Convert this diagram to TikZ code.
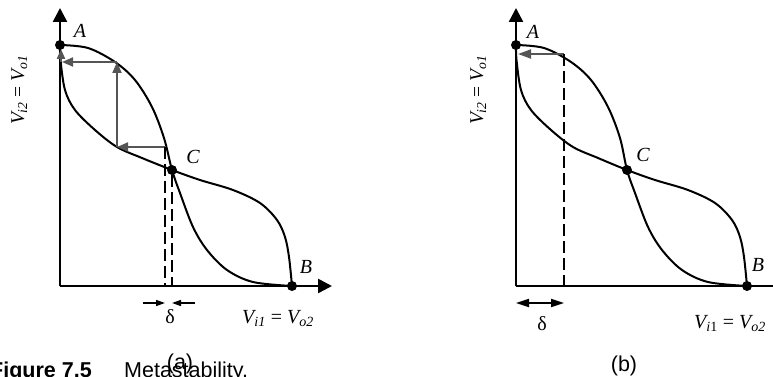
\documentclass[tikz,border=0pt]{standalone}
\usepackage{fontspec}
\setmainfont{Liberation Serif}
\newfontfamily\capfont{Liberation Sans}
\usetikzlibrary{arrows.meta}
\definecolor{arrowgray}{HTML}{555555}
\newcommand{\mysub}[1]{\textsubscript{#1}}
\begin{document}
\begin{tikzpicture}[x=1pt,y=-1pt,
  axis/.style={line width=2.5pt, -{Triangle[length=14pt,width=14pt]}},
  curve/.style={line width=2pt},
  grayarrow/.style={line width=2pt, draw=arrowgray, -{Triangle[length=11pt,width=9pt]}},
  dashline/.style={line width=2pt, dash pattern=on 12pt off 5pt},
  deltaarrow/.style={line width=1.5pt, -{Triangle[length=9pt,width=6pt]}},
  deltadouble/.style={line width=1.8pt, {Triangle[length=13pt,width=8pt]}-{Triangle[length=13pt,width=8pt]}},
  dot/.style={circle, fill=black, inner sep=0pt, minimum size=10pt},
  lbl/.style={font=\fontsize{20}{22}\selectfont\itshape, inner sep=0pt},
  ylbl/.style={font=\fontsize{19.5}{21}\selectfont\itshape, inner sep=0pt},
  grk/.style={font=\fontsize{20}{22}\selectfont, inner sep=0pt},
  sans/.style={font=\capfont\fontsize{21.5}{23}\selectfont, inner sep=0pt, anchor=base west}
]
\useasboundingbox (0,0) rectangle (773,377);

% ---------- panel (a) ----------
\begin{scope}[shift={(60,286)}, y=1pt]
  \coordinate (aO) at (0,0);
  \coordinate (aYtip) at (0,278);
  \coordinate (aXtip) at (272,0);
  \draw[axis] (aO) -- (aYtip);
  \draw[axis] (aO) -- (aXtip);
  \draw[curve] plot[smooth, tension=0.55] coordinates {(0,241) (28,238) (55,224) (75,206) (92,179) (104,148) (112,116) (120,93) (133,59) (147,36) (167,16) (193,4) (232,0)};
  \draw[curve] plot[smooth, tension=0.55] coordinates {(0,241) (0.5,226) (5,196) (15,176) (35,156) (57,139) (82,128) (112,116) (140,106) (173,96) (200,83) (217,66) (225,49) (229,29) (232,0)};
  \node[dot] (aA) at (0,241) {};
  \node[dot] (aB) at (232,0) {};
  \node[dot] (aC) at (112,116) {};
  \coordinate (ag1) at (106,139);
  \coordinate (ag2) at (57,139);
  \coordinate (ag3) at (57,224);
  \coordinate (ag4) at (2,224);
  \coordinate (ag5) at (1,224);
  \coordinate (ag6) at (1,237);
  \draw[grayarrow] (ag1) -- (ag2);
  \draw[grayarrow] (ag2) -- (ag3);
  \draw[grayarrow] (ag3) -- (ag4);
  \draw[grayarrow, -{Triangle[length=10pt,width=8pt]}] (ag5) -- (ag6);
  \coordinate (ad1t) at (105,139);
  \coordinate (ad1b) at (105,0);
  \draw[dashline] (ad1t) -- (ad1b);
  \coordinate (ad2b) at (112,0);
  \draw[dashline] (aC) -- (ad2b);
  \coordinate (adl) at (83,-17);
  \coordinate (adlt) at (105,-17);
  \coordinate (adr) at (135,-17);
  \coordinate (adrt) at (112,-17);
  \draw[deltaarrow] (adl) -- (adlt);
  \draw[deltaarrow] (adr) -- (adrt);
  \node[grk] (adelta) at (110,-31) {δ};
  \node[lbl, anchor=base] (aXlab) at (218,-37) {V\mysub{i1} \textup{=} V\mysub{o2}};
  \node[lbl] (aAl) at (20,255) {A};
  \node[lbl] (aCl) at (133,129) {C};
  \node[lbl] (aBl) at (246,19) {B};
  \node[ylbl, rotate=90, anchor=base] (aYlab) at (-36,196) {V\mysub{i2} \textup{=} V\mysub{o1}};
\end{scope}

% ---------- panel (b) ----------
\begin{scope}[shift={(516,286)}, y=1pt]
  \coordinate (bO) at (0,0);
  \coordinate (bYtip) at (0,278);
  \coordinate (bXtip) at (272,0);
  \draw[axis] (bO) -- (bYtip);
  \draw[axis] (bO) -- (bXtip);
  \draw[curve] plot[smooth, tension=0.55] coordinates {(0,241) (28,238) (55,224) (75,206) (92,179) (104,148) (111,116) (119,93) (132,59) (146,36) (166,16) (192,4) (231,0)};
  \draw[curve] plot[smooth, tension=0.55] coordinates {(0,241) (0.5,226) (5,196) (15,176) (35,156) (57,139) (82,128) (111,116) (139,106) (172,96) (199,83) (216,66) (224,49) (228,29) (231,0)};
  \node[dot] (bA) at (0,241) {};
  \node[dot] (bB) at (231,0) {};
  \node[dot] (bC) at (111,116) {};
  \coordinate (bg1) at (48,232);
  \coordinate (bg2) at (2,232);
  \draw[grayarrow, -{Triangle[length=13pt,width=9pt]}] (bg1) -- (bg2);
  \coordinate (bd1b) at (48,0);
  \draw[dashline] (bg1) -- (bd1b);
  \coordinate (bdl) at (0,-17);
  \coordinate (bdr) at (48,-17);
  \draw[deltadouble] (bdl) -- (bdr);
  \node[grk] (bdelta) at (26,-38) {δ};
  \node[lbl, anchor=base] (bXlab) at (214,-42) {V\mysub{i\textup{1}} \textup{=} V\mysub{o2}};
  \node[lbl] (bAl) at (17,254) {A};
  \node[lbl] (bCl) at (127,131) {C};
  \node[lbl] (bBl) at (242,21) {B};
  \node[ylbl, rotate=90, anchor=base] (bYlab) at (-33,196) {V\mysub{i2} \textup{=} V\mysub{o1}};
\end{scope}

% ---------- captions ----------
\node[sans] (fig) at (-10,377) {\bfseries Figure 7.5};
\node[sans] (meta) at (124,377) {Metastability.};
\node[sans, anchor=center] (cap_a) at (180,364) {(a)};
\node[sans, anchor=center] (cap_b) at (624,366) {(b)};
\end{tikzpicture}
\end{document}
